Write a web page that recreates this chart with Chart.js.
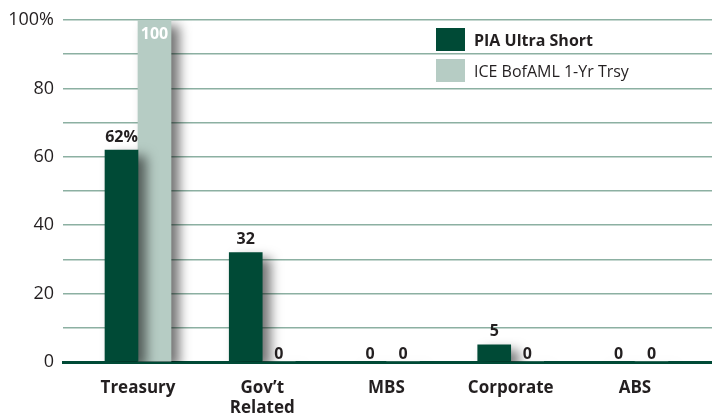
<!doctype html>
<html lang="en">
<head>
<meta charset="UTF-8" />
<title>Sector Allocation</title>
<script src="https://cdn.jsdelivr.net/npm/chart.js"></script>
<style>
  html, body { margin: 0; padding: 0; background: #fff; }
</style>
</head>
<body>
<canvas id="sectorChart" width="712" height="420"></canvas>
<script>
// chart data
const categories = ["Treasury", ["Gov\u2019t", "Related"], "MBS", "Corporate", "ABS"];
const seriesNames = ["PIA Ultra Short", "ICE BofAML 1-Yr Trsy"];
const piaValues = [62, 32, 0, 5, 0];
const indexValues = [100, 0, 0, 0, 0];
const yTickLabels = ["0", "20", "40", "60", "80", "100%"];

const darkGreen = "#004a36";
const lightGreen = "#b6ccc4";
const textColor = "#231f20";

Chart.defaults.font.family = "'Open Sans', sans-serif";

const toPoints = (vals) => vals.map((v, i) => ({ x: i, y: v }));

// soft drop shadow behind the bars
const barShadow = {
  id: "barShadow",
  beforeDatasetsDraw(chart) {
    const c = chart.ctx;
    c.save();
    c.shadowColor = "rgba(0,0,0,0.55)";
    c.shadowBlur = 12;
    c.shadowOffsetX = 8;
    c.shadowOffsetY = 6;
  },
  afterDatasetsDraw(chart) {
    chart.ctx.restore();
  },
};

// value labels above bars
const valueLabels = {
  id: "valueLabels",
  afterDraw(chart) {
    const c = chart.ctx;
    c.save();
    c.textAlign = "center";
    c.font = "bold 16px 'Open Sans', sans-serif";
    chart.data.datasets.forEach((ds, di) => {
      const meta = chart.getDatasetMeta(di);
      meta.data.forEach((bar, i) => {
        const v = ds.data[i].y;
        let txt = String(v);
        if (di === 0 && i === 0) txt += "%";
        if (v >= 100) {
          c.fillStyle = "#ffffff";
          c.textBaseline = "top";
          c.fillText(txt, bar.x, bar.y + 6);
        } else {
          c.fillStyle = textColor;
          c.textBaseline = "bottom";
          c.fillText(txt, bar.x, bar.y - (v > 0 ? 5 : 0));
        }
      });
    });
    c.restore();
  },
};

// legend drawn inside the plot, top right
const insideLegend = {
  id: "insideLegend",
  afterDraw(chart) {
    const c = chart.ctx;
    c.save();
    c.textBaseline = "middle";
    chart.data.datasets.forEach((ds, i) => {
      const y = 28 + i * 31;
      c.fillStyle = ds.backgroundColor;
      c.fillRect(436, y, 29, 23);
      c.fillStyle = textColor;
      c.font = (i === 0 ? "bold " : "") + "16px 'Open Sans', sans-serif";
      c.fillText(ds.label, 474, y + 13);
    });
    c.restore();
  },
};

new Chart(document.getElementById("sectorChart"), {
  type: "bar",
  data: {
    datasets: [
      { label: seriesNames[0], data: toPoints(piaValues), backgroundColor: darkGreen, barThickness: 33 },
      { label: seriesNames[1], data: toPoints(indexValues), backgroundColor: lightGreen, barThickness: 33 },
    ],
  },
  options: {
    responsive: false,
    animation: false,
    devicePixelRatio: 1,
    layout: { padding: { top: 20, right: 0, left: 0, bottom: 0 } },
    plugins: {
      legend: { display: false },
      tooltip: { enabled: false },
    },
    scales: {
      x: {
        type: "linear",
        offset: false,
        bounds: "data",
        min: -0.6036,
        max: 4.62,
        grid: { display: false },
        border: { display: true, color: darkGreen, width: 3 },
        afterBuildTicks: (axis) => {
          axis.ticks = categories.map((_, i) => ({ value: i }));
        },
        afterFit: (axis) => { axis.height = 58; },
        ticks: {
          autoSkip: false,
          maxRotation: 0,
          padding: 8,
          color: textColor,
          font: { size: 17, weight: "bold" },
          callback: (v) => categories[v],
        },
      },
      y: {
        min: 0,
        max: 100,
        grid: {
          drawTicks: false,
          color: (ctx) => (ctx.tick && ctx.tick.value === 0 ? "rgba(0,0,0,0)" : "#8cb0a2"),
          lineWidth: 1.5,
        },
        border: { display: false },
        afterFit: (axis) => { axis.width = 63; },
        ticks: {
          stepSize: 10,
          padding: 9,
          color: textColor,
          font: { size: 18 },
          callback: (v) => (v % 20 === 0 ? yTickLabels[v / 20] : ""),
        },
      },
    },
  },
  plugins: [barShadow, valueLabels, insideLegend],
});
</script>
</body>
</html>
